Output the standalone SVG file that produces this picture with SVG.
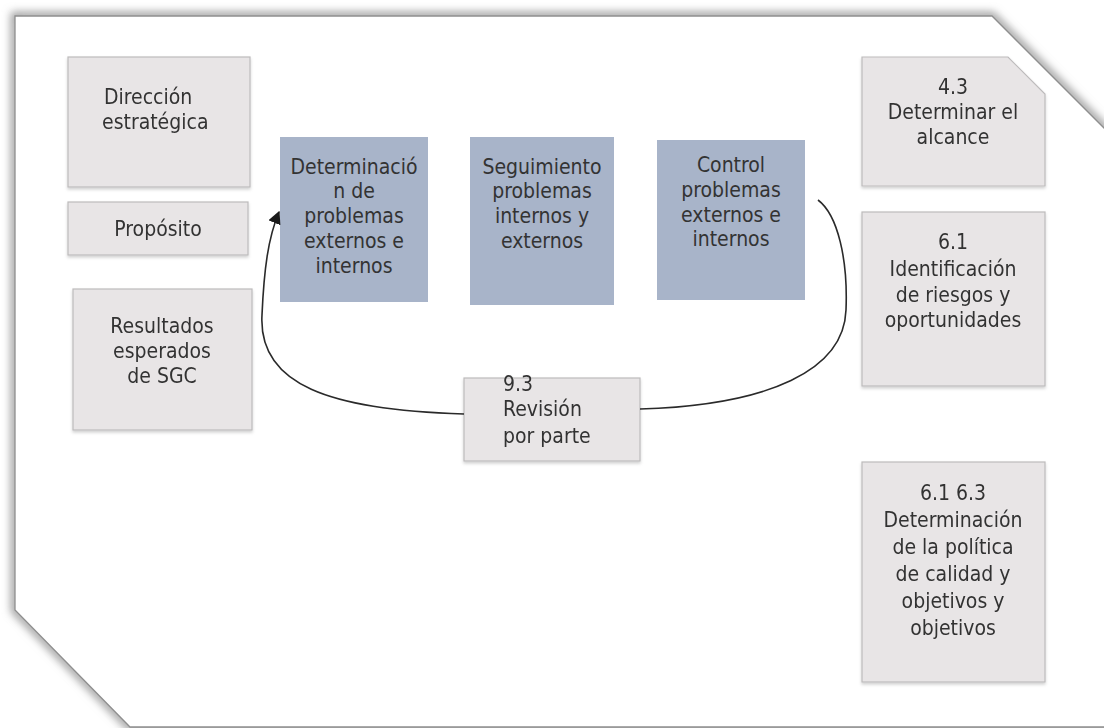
<svg xmlns="http://www.w3.org/2000/svg" width="1104" height="728" viewBox="0 0 1104 728">
  <style>
    .g { fill: #e8e5e6; stroke: #bdbbbc; stroke-width: 1.2; }
    .b { fill: #a8b4c9; }
    text { font-family: "DejaVu Sans Condensed", "DejaVu Sans", "Liberation Sans", sans-serif; font-stretch: condensed; font-size: 21px; fill: #333333; }
    .c { text-anchor: middle; }
    .conn { fill: none; stroke: #2a2a2a; stroke-width: 1.6; }
  </style>
  <defs>
    <filter id="blur" x="-5%" y="-5%" width="110%" height="110%">
      <feGaussianBlur stdDeviation="4"/>
    </filter>
    <filter id="sh" x="-10%" y="-10%" width="120%" height="120%">
      <feDropShadow dx="0" dy="2" stdDeviation="1.5" flood-color="#000" flood-opacity="0.18"/>
    </filter>
    <marker id="arr" viewBox="0 0 10 10" refX="9" refY="5" markerWidth="13" markerHeight="13" orient="auto" markerUnits="userSpaceOnUse">
      <path d="M0,0 L10,5 L0,10 z" fill="#1a1a1a"/>
    </marker>
  </defs>
  <rect width="1104" height="728" fill="#ffffff"/>
  <g id="frame">
    <polygon points="15,16 992,16 1116,140 1116,727 130,727 15,610" fill="none" stroke="#9a9a9a" stroke-width="8" filter="url(#blur)"/>
    <polygon points="15,16 992,16 1116,140 1116,727 130,727 15,610" fill="#ffffff" stroke="#8f8f8f" stroke-width="1.3"/>
  </g>
  <g id="n-direccion" filter="url(#sh)">
    <rect class="g" x="68" y="57" width="182" height="130"/>
    <text x="104" y="104">Dirección</text>
    <text x="102" y="129">estratégica</text>
  </g>
  <g id="n-proposito" filter="url(#sh)">
    <rect class="g" x="68" y="202" width="180" height="53"/>
    <text class="c" x="158" y="236">Propósito</text>
  </g>
  <g id="n-resultados" filter="url(#sh)">
    <rect class="g" x="73" y="289" width="179" height="141"/>
    <text class="c" x="162" y="333">Resultados</text>
    <text class="c" x="162" y="358">esperados</text>
    <text class="c" x="162" y="383">de SGC</text>
  </g>
  <g id="n-determinacion">
    <rect class="b" x="280" y="137" width="148" height="165"/>
    <text class="c" x="354" y="174">Determinació</text>
    <text class="c" x="354" y="198">n de</text>
    <text class="c" x="354" y="223">problemas</text>
    <text class="c" x="354" y="248">externos e</text>
    <text class="c" x="354" y="273">internos</text>
  </g>
  <g id="n-seguimiento">
    <rect class="b" x="470" y="137" width="144" height="168"/>
    <text class="c" x="542" y="174">Seguimiento</text>
    <text class="c" x="542" y="198">problemas</text>
    <text class="c" x="542" y="223">internos y</text>
    <text class="c" x="542" y="248">externos</text>
  </g>
  <g id="n-control">
    <rect class="b" x="657" y="140" width="148" height="160"/>
    <text class="c" x="731" y="172">Control</text>
    <text class="c" x="731" y="197">problemas</text>
    <text class="c" x="731" y="222">externos e</text>
    <text class="c" x="731" y="246">internos</text>
  </g>
  <g id="n-revision" filter="url(#sh)">
    <rect class="g" x="464" y="378" width="176" height="83"/>
    <text x="503" y="391">9.3</text>
    <text x="503" y="416">Revisión</text>
    <text x="503" y="443">por parte</text>
  </g>
  <g id="n-alcance" filter="url(#sh)">
    <polygon class="g" points="862,57 1008,57 1045,94 1045,186 862,186"/>
    <text class="c" x="953" y="94">4.3</text>
    <text class="c" x="953" y="119">Determinar el</text>
    <text class="c" x="953" y="144">alcance</text>
  </g>
  <g id="n-riesgos" filter="url(#sh)">
    <rect class="g" x="862" y="212" width="183" height="174"/>
    <text class="c" x="953" y="249">6.1</text>
    <text class="c" x="953" y="276">Identificación</text>
    <text class="c" x="953" y="302">de riesgos y</text>
    <text class="c" x="953" y="327">oportunidades</text>
  </g>
  <g id="n-politica" filter="url(#sh)">
    <rect class="g" x="862" y="462" width="183" height="220"/>
    <text class="c" x="953" y="500">6.1 6.3</text>
    <text class="c" x="953" y="527">Determinación</text>
    <text class="c" x="953" y="554">de la política</text>
    <text class="c" x="953" y="581">de calidad y</text>
    <text class="c" x="953" y="608">objetivos y</text>
    <text class="c" x="953" y="635">objetivos</text>
  </g>
  <g id="connectors">
    <path class="conn" d="M464,414 C 330,410 258,385 262,315 C 264,270 268,238 279,212" marker-end="url(#arr)"/>
    <path class="conn" d="M818,200 C 838,215 848,260 846,310 C 844,370 770,405 640,409"/>
  </g>
</svg>
